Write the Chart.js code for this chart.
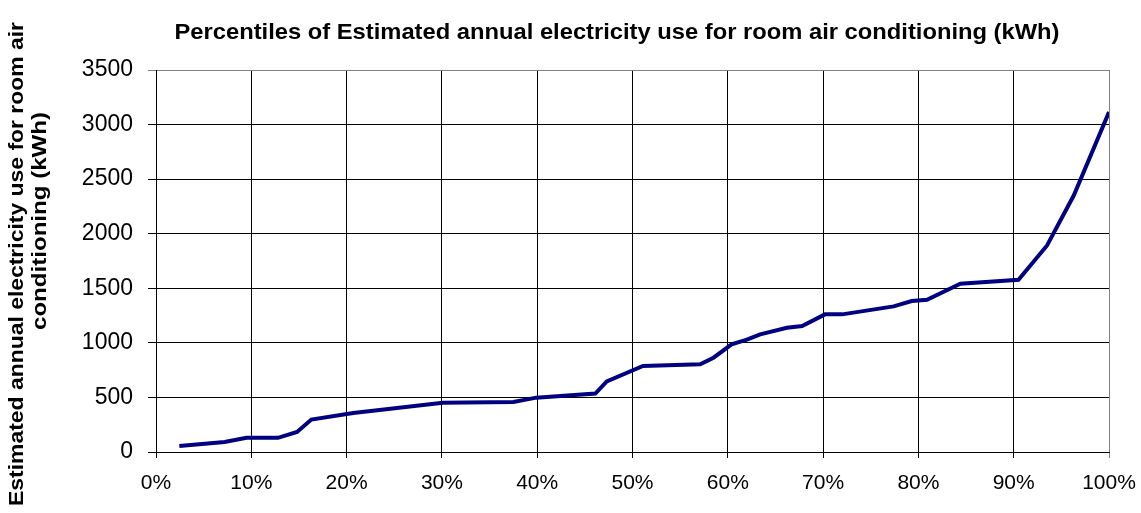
<!DOCTYPE html>
<html>
<head>
<meta charset="utf-8">
<script src="https://cdn.jsdelivr.net/npm/chart.js@4"></script>
<style>
  html, body { margin: 0; padding: 0; background: #fff; }
  canvas { display: block; }
</style>
</head>
<body>
<canvas id="chart" width="1141" height="513"></canvas>
<script>
// Data
const percentiles = [2.45, 7.2, 9.5, 12.8, 14.8, 16.3, 20.7, 30.1, 37.5, 39.9, 46.1, 47.3, 51.1, 57.1, 58.5,
                     60.4, 62.0, 63.4, 66.2, 67.8, 70.2, 72.0, 77.4, 79.3, 80.9, 84.4, 90.5, 93.5, 96.3, 100];
const kwh = [55, 92, 130, 130, 183, 297, 357, 452, 458, 498, 535, 647, 788, 803, 864,
             986, 1029, 1078, 1139, 1154, 1261, 1261, 1334, 1383, 1395, 1541, 1578, 1892, 2350, 3115];
const chartTitle = 'Percentiles of Estimated annual electricity use for room air conditioning (kWh)';
const yTitle = ['Estimated annual electricity use for room air', 'conditioning (kWh)'];

const FONT = '"Liberation Sans", Arial, sans-serif';

// draw text squeezed/stretched to a given width
function fitText(ctx, text, x, y, width, rot) {
    ctx.save();
    ctx.translate(x, y);
    ctx.rotate(rot);
    const w = ctx.measureText(text).width;
    ctx.scale(width / w, 1);
    ctx.fillText(text, 0, 0);
    ctx.restore();
}

const titles = {
    id: 'titles',
    afterDraw(chart) {
        const c = chart.ctx;
        c.save();
        c.fillStyle = '#000';
        c.textAlign = 'center';
        c.textBaseline = 'middle';
        c.font = 'bold 22px ' + FONT;
        fitText(c, chartTitle, 617, 33, 885, 0);
        c.font = 'bold 21px ' + FONT;
        fitText(c, yTitle[0], 17, 264, 484, -Math.PI / 2);
        fitText(c, yTitle[1], 40, 221, 218, -Math.PI / 2);
        c.restore();
    }
};

const ctx = document.getElementById('chart').getContext('2d');
new Chart(ctx, {
    type: 'line',
    data: {
        datasets: [{
            data: percentiles.map((p, i) => ({x: p, y: kwh[i]})),
            borderColor: '#000080',
            borderWidth: 4,
            pointRadius: 0,
            tension: 0,
            fill: false
        }]
    },
    options: {
        responsive: false,
        animation: false,
        layout: {padding: {top: 70, right: 32, bottom: 0, left: 0}},
        plugins: {legend: {display: false}, tooltip: {enabled: false}, title: {display: false}},
        scales: {
            x: {
                type: 'linear',
                min: 0, max: 100,
                ticks: {stepSize: 10, color: '#000', font: {family: FONT, size: 21}, padding: 13,
                        maxRotation: 0, callback: v => v + '%'},
                grid: {color: c => c.tick && c.tick.value === 100 ? '#808080' : '#000', lineWidth: 1, tickLength: 6},
                border: {color: '#000', width: 1},
                afterFit: s => { s.height = 61; s.paddingLeft = 0; s.paddingRight = 0; }
            },
            y: {
                min: 0, max: 3500,
                ticks: {stepSize: 500, color: '#000', font: {family: FONT, size: 23}, padding: 15,
                        callback: v => String(v)},
                grid: {color: c => c.tick && c.tick.value === 3500 ? '#808080' : '#000', lineWidth: 1, tickLength: 8},
                border: {color: '#000', width: 1},
                afterFit: s => { s.width = 156; }
            }
        }
    },
    plugins: [titles]
});
</script>
</body>
</html>
